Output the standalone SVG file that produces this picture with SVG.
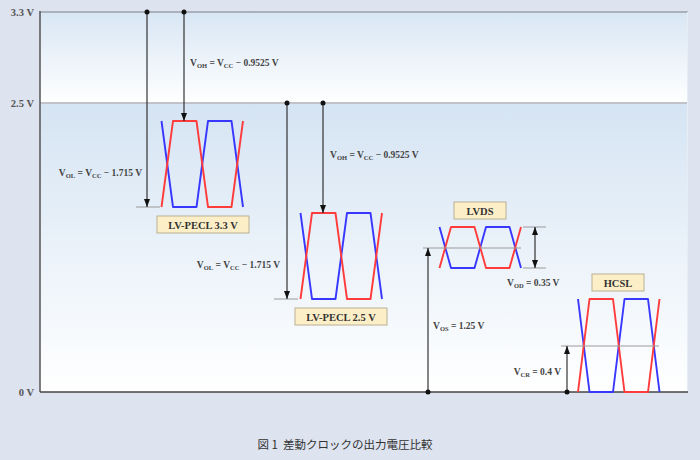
<svg xmlns="http://www.w3.org/2000/svg" width="700" height="460" viewBox="0 0 700 460">
<defs>
<linearGradient id="gTop" x1="0" y1="0" x2="0" y2="1">
<stop offset="0" stop-color="#d8e6f4"/><stop offset="1" stop-color="#ffffff"/>
</linearGradient>
<linearGradient id="gLow" x1="0" y1="0" x2="0" y2="1">
<stop offset="0" stop-color="#d5e4f3"/><stop offset="1" stop-color="#ffffff"/>
</linearGradient>
<marker id="ah" markerUnits="userSpaceOnUse" markerWidth="8" markerHeight="8" refX="8" refY="3" orient="auto">
<path d="M0,0 L8,3 L0,6 z" fill="#111"/>
</marker>
<marker id="ahs" markerUnits="userSpaceOnUse" markerWidth="8" markerHeight="8" refX="0" refY="3" orient="auto">
<path d="M8,0 L0,3 L8,6 z" fill="#111"/>
</marker>
</defs>
<style>
.ax{font-family:"Liberation Serif",serif;font-size:10.5px;font-weight:bold;fill:#555;}
.lb{font-family:"Liberation Serif",serif;font-size:9.5px;font-weight:bold;fill:#444;}
.sb{font-size:6.5px;}
.bx{fill:#fcefc8;stroke:#b9b092;stroke-width:1;}
.bt{font-family:"Liberation Serif",serif;font-size:10.5px;font-weight:bold;fill:#333;text-anchor:middle;}
.blue{fill:none;stroke:#3737ff;stroke-width:1.9;stroke-linejoin:round;}
.red{fill:none;stroke:#ff3b3b;stroke-width:1.9;stroke-linejoin:round;}
.ar{stroke:#222;stroke-width:1.1;fill:none;}
.tk{stroke:#9a9a9a;stroke-width:1;}
.dot{fill:#111;}
</style>
<rect x="0" y="0" width="700" height="460" fill="#dde3ef"/>
<g id="plot">
<rect x="40" y="12" width="648" height="91" fill="url(#gTop)"/>
<rect x="40" y="103" width="648" height="289" fill="url(#gLow)"/>
<line x1="40" y1="12" x2="688" y2="12" stroke="#9aa1aa" stroke-width="1.5"/>
<line x1="40" y1="103" x2="688" y2="103" stroke="#bfc3c8" stroke-width="2"/>
<line x1="687.5" y1="12" x2="687.5" y2="392" stroke="#e6edf5" stroke-width="1"/>
<line x1="40" y1="11" x2="40" y2="392" stroke="#555" stroke-width="1.5"/>
<line x1="40" y1="392" x2="688" y2="392" stroke="#444" stroke-width="1.5"/>
<text class="ax" x="34" y="16" text-anchor="end">3.3 V</text>
<text class="ax" x="34" y="107" text-anchor="end">2.5 V</text>
<text class="ax" x="34" y="396" text-anchor="end">0 V</text>
</g>
<g id="lvpecl33">
<path class="blue" d="M161.5,121 L173,207 L196.5,207 L208,121 L231.5,121 L243,207"/>
<path class="red" d="M161.5,207 L173,121 L196.5,121 L208,207 L231.5,207 L243,121"/>
<rect class="bx" x="157" y="216" width="92" height="17"/>
<text class="bt" x="203" y="229">LV-PECL 3.3 V</text>
</g>
<g id="lvpecl25">
<path class="blue" d="M300.5,213 L312,299 L335.5,299 L347,213 L370.5,213 L382,299"/>
<path class="red" d="M300.5,299 L312,213 L335.5,213 L347,299 L370.5,299 L382,213"/>
<rect class="bx" x="295" y="308" width="92" height="17"/>
<text class="bt" x="341" y="321">LV-PECL 2.5 V</text>
</g>
<g id="lvds">
<path class="blue" d="M439.5,227 L451,268 L474.5,268 L486,227 L509.5,227 L521,268"/>
<path class="red" d="M439.5,268 L451,227 L474.5,227 L486,268 L509.5,268 L521,227"/>
<rect class="bx" x="454" y="202" width="52" height="17"/>
<text class="bt" x="480" y="215">LVDS</text>
</g>
<g id="hcsl">
<path class="blue" d="M578,299 L589.5,392 L613,392 L624.5,299 L648,299 L659.5,392"/>
<path class="red" d="M578,392 L589.5,299 L613,299 L624.5,392 L648,392 L659.5,299"/>
<rect class="bx" x="592" y="274" width="52" height="17"/>
<text class="bt" x="618" y="287">HCSL</text>
</g>
<g id="connectors">
<line class="tk" x1="136" y1="207" x2="160" y2="207"/>
<line class="tk" x1="274" y1="299" x2="298" y2="299"/>
<line class="tk" x1="423" y1="248" x2="521" y2="248"/>
<line class="tk" x1="523" y1="227" x2="546" y2="227"/>
<line class="tk" x1="523" y1="268" x2="546" y2="268"/>
<line class="tk" x1="561" y1="346" x2="659" y2="346"/>
<line class="ar" x1="147" y1="12" x2="147" y2="207" marker-end="url(#ah)"/>
<circle class="dot" cx="147" cy="12" r="2.5"/>
<line class="ar" x1="184" y1="12" x2="184" y2="121" marker-end="url(#ah)"/>
<circle class="dot" cx="184" cy="12" r="2.5"/>
<line class="ar" x1="287" y1="103" x2="287" y2="299" marker-end="url(#ah)"/>
<circle class="dot" cx="287" cy="103" r="2.5"/>
<line class="ar" x1="323" y1="103" x2="323" y2="213" marker-end="url(#ah)"/>
<circle class="dot" cx="323" cy="103" r="2.5"/>
<line class="ar" x1="428" y1="392" x2="428" y2="248" marker-end="url(#ah)"/>
<circle class="dot" cx="428" cy="392" r="2.5"/>
<line class="ar" x1="535" y1="227" x2="535" y2="268" marker-start="url(#ahs)" marker-end="url(#ah)"/>
<line class="ar" x1="567" y1="392" x2="567" y2="346" marker-end="url(#ah)"/>
<circle class="dot" cx="567" cy="392" r="2.5"/>
</g>
<g id="labels">
<text class="lb" x="190" y="66">V<tspan class="sb" dy="2">OH</tspan><tspan dy="-2"> = V</tspan><tspan class="sb" dy="2">CC</tspan><tspan dy="-2"> − 0.9525 V</tspan></text>
<text class="lb" x="142" y="176" text-anchor="end">V<tspan class="sb" dy="2">OL</tspan><tspan dy="-2"> = V</tspan><tspan class="sb" dy="2">CC</tspan><tspan dy="-2"> − 1.715 V</tspan></text>
<text class="lb" x="330" y="158">V<tspan class="sb" dy="2">OH</tspan><tspan dy="-2"> = V</tspan><tspan class="sb" dy="2">CC</tspan><tspan dy="-2"> − 0.9525 V</tspan></text>
<text class="lb" x="280" y="268" text-anchor="end">V<tspan class="sb" dy="2">OL</tspan><tspan dy="-2"> = V</tspan><tspan class="sb" dy="2">CC</tspan><tspan dy="-2"> − 1.715 V</tspan></text>
<text class="lb" x="507" y="286">V<tspan class="sb" dy="2">OD</tspan><tspan dy="-2"> = 0.35 V</tspan></text>
<text class="lb" x="433" y="329">V<tspan class="sb" dy="2">OS</tspan><tspan dy="-2"> = 1.25 V</tspan></text>
<text class="lb" x="561" y="375" text-anchor="end">V<tspan class="sb" dy="2">CR</tspan><tspan dy="-2"> = 0.4 V</tspan></text>
</g>
<text x="345" y="449" text-anchor="middle" font-family="'Noto Sans CJK JP',sans-serif" font-size="11.5" fill="#333" xml:space="preserve">図 1  差動クロックの出力電圧比較</text>
</svg>
